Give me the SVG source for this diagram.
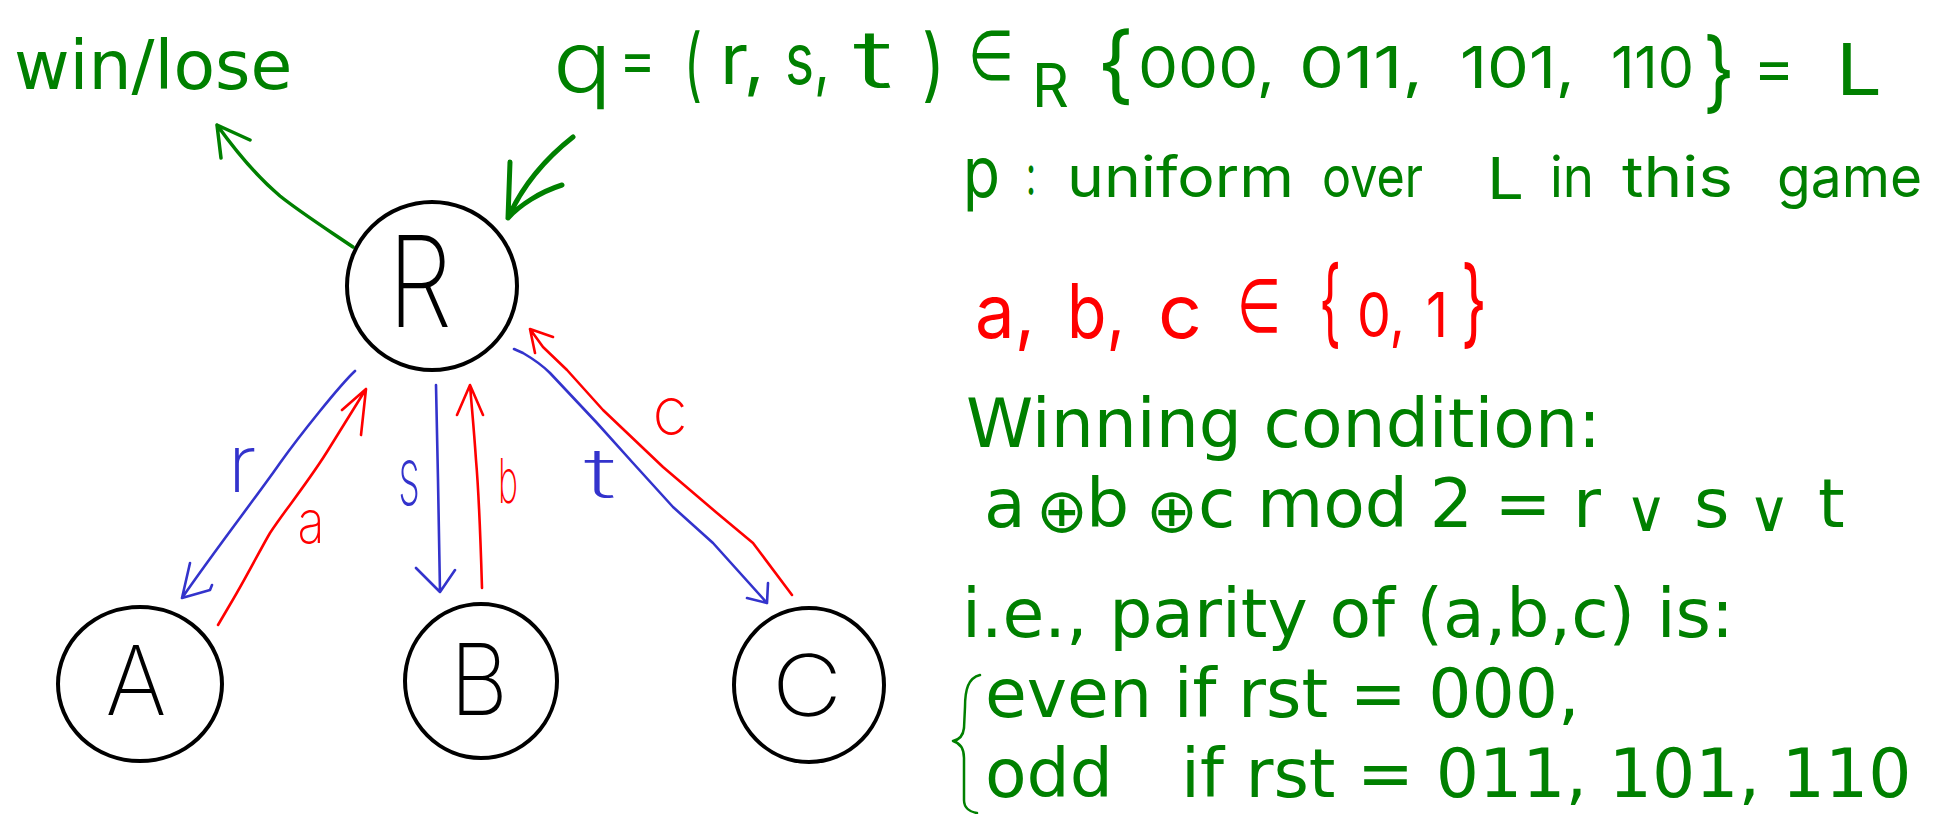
<svg xmlns="http://www.w3.org/2000/svg" width="1940" height="814" viewBox="0 0 1940 814">
<style>
.node{fill:none;stroke:#000;stroke-width:4}
.nl{font-family:Inter,"Noto Sans","DejaVu Sans",sans-serif;font-weight:200;fill:#000;text-anchor:middle}
.hb{font-family:Inter,"Noto Sans","DejaVu Sans",sans-serif;font-weight:200;fill:#3333cc;text-anchor:middle}
.hr{font-family:Inter,"Noto Sans","DejaVu Sans",sans-serif;font-weight:200;fill:#ff0000;text-anchor:middle}
.hg{font-family:Inter,"Noto Sans","DejaVu Sans",sans-serif;font-weight:400;fill:#008000}
.hred{font-family:Inter,"Noto Sans","DejaVu Sans",sans-serif;font-weight:400;fill:#ff0000}
.ty{font-family:"DejaVu Sans",sans-serif;font-size:68px;fill:#008000}
.blue{fill:none;stroke:#3333cc;stroke-width:2.6;stroke-linecap:round;stroke-linejoin:round}
.red{fill:none;stroke:#ff0000;stroke-width:2.6;stroke-linecap:round;stroke-linejoin:round}
.grn{fill:none;stroke:#008000;stroke-linecap:round;stroke-linejoin:round}
</style>
<rect width="1940" height="814" fill="#fff"/>

<g id="connectors">
  <!-- win/lose arrow -->
  <path class="grn" stroke-width="3.5" d="M353 247 C325 228 300 212 280 196 C255 175 235 150 217 125 M221 158 L217 125 L250 140"/>
  <!-- q arrow -->
  <path class="grn" stroke-width="5" d="M573 137 C550 155 525 180 508 218 M510 162 L508 218 C520 205 540 192 562 185"/>
  <!-- r: R to A -->
  <path class="blue" d="M355 371 C340 385 300 435 280 463 C260 492 215 550 182 598 M190 563 L182 598 L210 590 L212 585"/>
  <!-- a: A to R -->
  <path class="red" d="M218 625 L228 608 C245 580 260 550 270 533 C285 510 310 480 330 447 L366 389 M342 410 L366 389 L361 435"/>
  <!-- s: R to B -->
  <path class="blue" d="M436 385 L438 480 L440 592 M416 568 L440 592 L455 570"/>
  <!-- b: B to R -->
  <path class="red" d="M482 588 C480 520 478 483 476 460 C474 430 472 410 470 385 M457 415 L470 385 L483 415"/>
  <!-- t: R to C -->
  <path class="blue" d="M514 349 L523 353 C535 360 545 368 550 373 L597 423 L633 463 L673 507 L713 543 L767 603 M747 598 L767 603 L768 583"/>
  <!-- c: C to R -->
  <path class="red" d="M792 595 L753 543 L717 513 L663 467 L603 410 L567 370 L543 347 L530 329 M535 353 L530 329 L553 337"/>
</g>

<g id="node-R">
  <ellipse class="node" cx="432" cy="286" rx="85" ry="84"/>
  <text class="nl" x="420" y="327" font-size="126" textLength="64" lengthAdjust="spacingAndGlyphs">R</text>
</g>
<g id="node-A">
  <ellipse class="node" cx="140" cy="684" rx="82" ry="77"/>
  <text class="nl" x="136" y="715" font-size="96" textLength="61" lengthAdjust="spacingAndGlyphs">A</text>
</g>
<g id="node-B">
  <ellipse class="node" cx="481" cy="681" rx="76" ry="77"/>
  <text class="nl" x="479" y="715" font-size="99" textLength="58" lengthAdjust="spacingAndGlyphs">B</text>
</g>
<g id="node-C">
  <ellipse class="node" cx="809" cy="685" rx="75" ry="77"/>
  <text class="nl" x="807" y="716" font-size="85" textLength="70" lengthAdjust="spacingAndGlyphs">C</text>
</g>

<g id="edge-labels">
  <text class="hb" x="242" y="492" font-size="80" textLength="29" lengthAdjust="spacingAndGlyphs">r</text>
  <text class="hr" x="311" y="543" font-size="60" textLength="27" lengthAdjust="spacingAndGlyphs">a</text>
  <text class="hb" x="409" y="505" font-size="82" textLength="22" lengthAdjust="spacingAndGlyphs">s</text>
  <text class="hr" x="508" y="503" font-size="62" textLength="20" lengthAdjust="spacingAndGlyphs">b</text>
  <text class="hb" x="600" y="498" font-size="69" textLength="32" lengthAdjust="spacingAndGlyphs">t</text>
  <text class="hr" x="670" y="435" font-size="67" textLength="35" lengthAdjust="spacingAndGlyphs">c</text>
</g>

<g id="win-lose">
  <text class="ty" x="14" y="89">win/lose</text>
</g>

<g id="question-line">
  <text class="hg">
    <tspan x="553" y="92" font-size="85" font-weight="300" textLength="59" lengthAdjust="spacingAndGlyphs">q</tspan>
    <tspan x="619" y="80" font-size="60" textLength="37" lengthAdjust="spacingAndGlyphs">=</tspan>
    <tspan x="684" y="92" font-size="80" textLength="18" lengthAdjust="spacingAndGlyphs">(</tspan>
    <tspan x="720" y="84" font-size="70" textLength="45" lengthAdjust="spacingAndGlyphs">r,</tspan>
    <tspan x="785" y="84" font-size="70" textLength="45" lengthAdjust="spacingAndGlyphs">s,</tspan>
    <tspan x="853" y="88" font-size="80" font-weight="300" textLength="40" lengthAdjust="spacingAndGlyphs">t</tspan>
    <tspan x="922" y="92" font-size="80" textLength="23" lengthAdjust="spacingAndGlyphs">)</tspan>
    <tspan x="968" y="80" font-size="70" textLength="46" lengthAdjust="spacingAndGlyphs">∈</tspan>
    <tspan x="1032" y="107" font-size="60" textLength="37" lengthAdjust="spacingAndGlyphs">R</tspan>
    <tspan x="1097" y="94" font-size="85" textLength="37" lengthAdjust="spacingAndGlyphs">{</tspan>
    <tspan x="1138" y="88" font-size="57" textLength="137" lengthAdjust="spacingAndGlyphs">000,</tspan>
    <tspan x="1299" y="88" font-size="57" textLength="124" lengthAdjust="spacingAndGlyphs">011,</tspan>
    <tspan x="1460" y="88" font-size="57" textLength="115" lengthAdjust="spacingAndGlyphs">101,</tspan>
    <tspan x="1611" y="88" font-size="57" textLength="83" lengthAdjust="spacingAndGlyphs">110</tspan>
    <tspan x="1703" y="102" font-size="88" textLength="32" lengthAdjust="spacingAndGlyphs">}</tspan>
    <tspan x="1753" y="88" font-size="60" textLength="42" lengthAdjust="spacingAndGlyphs">=</tspan>
    <tspan x="1836" y="95" font-size="72" textLength="46" lengthAdjust="spacingAndGlyphs">L</tspan>
  </text>
</g>

<g id="distribution-line">
  <text class="hg" font-size="56">
    <tspan x="963" y="197" font-size="70" textLength="37" lengthAdjust="spacingAndGlyphs">p</tspan>
    <tspan x="1026" y="195" textLength="10" lengthAdjust="spacingAndGlyphs">:</tspan>
    <tspan x="1067" y="197" textLength="227" lengthAdjust="spacingAndGlyphs">uniform</tspan>
    <tspan x="1322" y="197" textLength="101" lengthAdjust="spacingAndGlyphs">over</tspan>
    <tspan x="1487" y="199" font-size="58" textLength="37" lengthAdjust="spacingAndGlyphs">L</tspan>
    <tspan x="1550" y="197" textLength="44" lengthAdjust="spacingAndGlyphs">in</tspan>
    <tspan x="1622" y="197" textLength="111" lengthAdjust="spacingAndGlyphs">this</tspan>
    <tspan x="1777" y="197" textLength="145" lengthAdjust="spacingAndGlyphs">game</tspan>
  </text>
</g>

<g id="answers-line">
  <text class="hred" font-size="75">
    <tspan x="975" y="338" textLength="60" lengthAdjust="spacingAndGlyphs">a,</tspan>
    <tspan x="1067" y="338" textLength="58" lengthAdjust="spacingAndGlyphs">b,</tspan>
    <tspan x="1158" y="338" textLength="44" lengthAdjust="spacingAndGlyphs">c</tspan>
    <tspan x="1237" y="332" textLength="44" lengthAdjust="spacingAndGlyphs">∈</tspan>
    <tspan x="1319" y="336" font-size="96" textLength="22" lengthAdjust="spacingAndGlyphs">{</tspan>
    <tspan x="1357" y="337" font-size="62" textLength="48" lengthAdjust="spacingAndGlyphs">0,</tspan>
    <tspan x="1426" y="337" font-size="62" textLength="22" lengthAdjust="spacingAndGlyphs">1</tspan>
    <tspan x="1461" y="336" font-size="96" textLength="26" lengthAdjust="spacingAndGlyphs">}</tspan>
  </text>
</g>

<g id="winning-condition">
  <text class="ty" x="966" y="447">Winning condition:</text>
  <text class="ty" y="527">
    <tspan x="984">a</tspan><tspan x="1036" y="532" font-size="62">⊕</tspan><tspan x="1086" y="527">b</tspan><tspan x="1146" y="532" font-size="62">⊕</tspan><tspan x="1198" y="527">c mod 2 = r</tspan><tspan x="1625" y="531" font-size="58">∨</tspan><tspan x="1694" y="527">s</tspan><tspan x="1748" y="531" font-size="58">∨</tspan><tspan x="1818" y="527">t</tspan>
  </text>
  <text class="ty" x="962" y="637">i.e., parity of (a,b,c) is:</text>
  <path class="grn" stroke-width="2.5" d="M980 675 C968 678 965 690 965 707 L964 728 C963 737 958 740 953 741 C960 743 964 748 964 758 L964 800 C964 808 970 812 977 813"/>
  <text class="ty" x="985" y="717">even if rst = 000,</text>
  <text class="ty" y="797"><tspan x="985">odd</tspan><tspan x="1181">if rst = 011, 101, 110</tspan></text>
</g>
</svg>
